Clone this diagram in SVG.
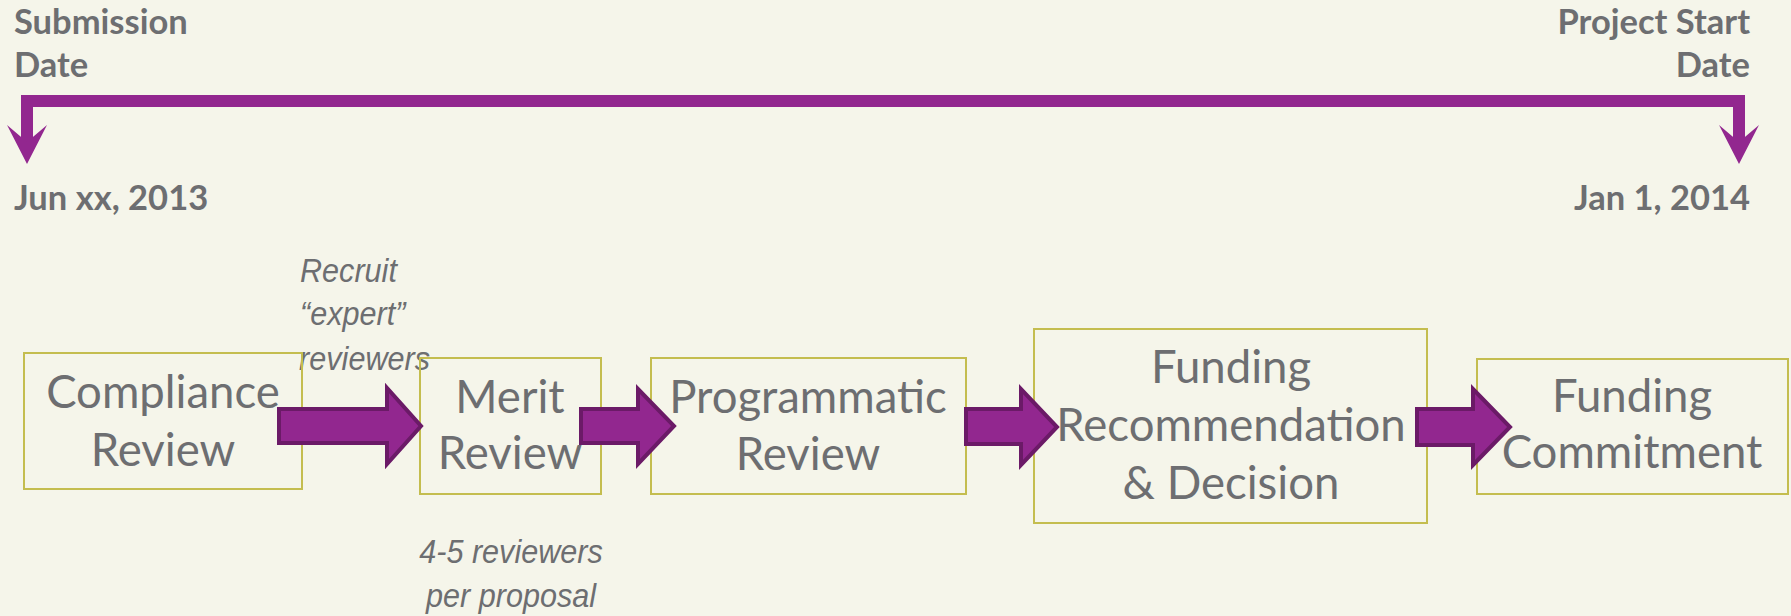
<svg xmlns="http://www.w3.org/2000/svg" width="1791" height="616" viewBox="0 0 1791 616">
<style>
.bg{fill:#F5F5EA}
.box{fill:none;stroke:#C4BD4F;stroke-width:2}
.t{font-family:Lato,"Open Sans",sans-serif;fill:#6D6E71;font-size:45.5px;text-anchor:middle}
.h{font-family:Lato,"Open Sans",sans-serif;fill:#6D6E71;font-size:34.5px;font-weight:bold}
.i{font-family:"Liberation Sans",Arial,sans-serif;fill:#6D6E71;font-size:34px;font-style:italic}
.ba{fill:#92278F;stroke:#6B1A67;stroke-width:4;stroke-linejoin:miter}
.tl{fill:none;stroke:#92278F;stroke-width:12;stroke-linejoin:miter}
.hd{fill:#92278F}
</style>
<rect class="bg" x="0" y="0" width="1791" height="616"/>
<g id="timeline">
<path class="tl" d="M27 146 L27 101 L1739 101 L1739 146"/>
<polygon class="hd" points="7,125 27,164 47,125 27,142"/>
<polygon class="hd" points="1719,125 1739,164 1759,125 1739,142"/>
</g>
<g id="labels">
<text class="h" x="14" y="34">Submission</text>
<text class="h" x="14" y="77">Date</text>
<text class="h" x="14" y="210">Jun xx, 2013</text>
<text class="h" x="1750" y="34" text-anchor="end">Project Start</text>
<text class="h" x="1750" y="77" text-anchor="end">Date</text>
<text class="h" x="1750" y="210" text-anchor="end">Jan 1, 2014</text>
<g transform="translate(300,0) scale(0.9,1)">
<text class="i" x="0" y="282">Recruit</text>
<text class="i" x="0" y="325">“expert”</text>
<text class="i" x="-1" y="370">reviewers</text>
</g>
<g transform="translate(511,0) scale(0.9,1)">
<text class="i" x="0" y="563" text-anchor="middle">4-5 reviewers</text>
<text class="i" x="0" y="607" text-anchor="middle">per proposal</text>
</g>
</g>
<g id="n1"><rect class="box" x="24" y="353" width="278" height="136"/>
<text class="t" x="163" y="408">Compliance</text><text class="t" x="163" y="466">Review</text></g>
<g id="n2"><rect class="box" x="420" y="358" width="181" height="136"/>
<text class="t" x="510" y="413">Merit</text><text class="t" x="510" y="469">Review</text></g>
<g id="n3"><rect class="box" x="651" y="358" width="315" height="136"/>
<text class="t" x="808" y="413">Programmatic</text><text class="t" x="808" y="470">Review</text></g>
<g id="n4"><rect class="box" x="1034" y="329" width="393" height="194"/>
<text class="t" x="1231" y="383">Funding</text><text class="t" x="1231" y="441">Recommendation</text><text class="t" x="1231" y="499">&amp; Decision</text></g>
<g id="n5"><rect class="box" x="1477" y="359" width="311" height="135"/>
<text class="t" x="1632" y="412">Funding</text><text class="t" x="1632" y="468">Commitment</text></g>
<g id="connectors">
<polygon class="ba" points="279,409 387,409 387,388 421,426 387,464 387,443 279,443"/>
<polygon class="ba" points="581,409 638,409 638,389 674,426 638,464 638,443 581,443"/>
<polygon class="ba" points="966,409 1021,409 1021,389 1057,427 1021,465 1021,444 966,444"/>
<polygon class="ba" points="1417,409 1473,409 1473,389 1510,427 1473,465 1473,445 1417,445"/>
</g>
</svg>
